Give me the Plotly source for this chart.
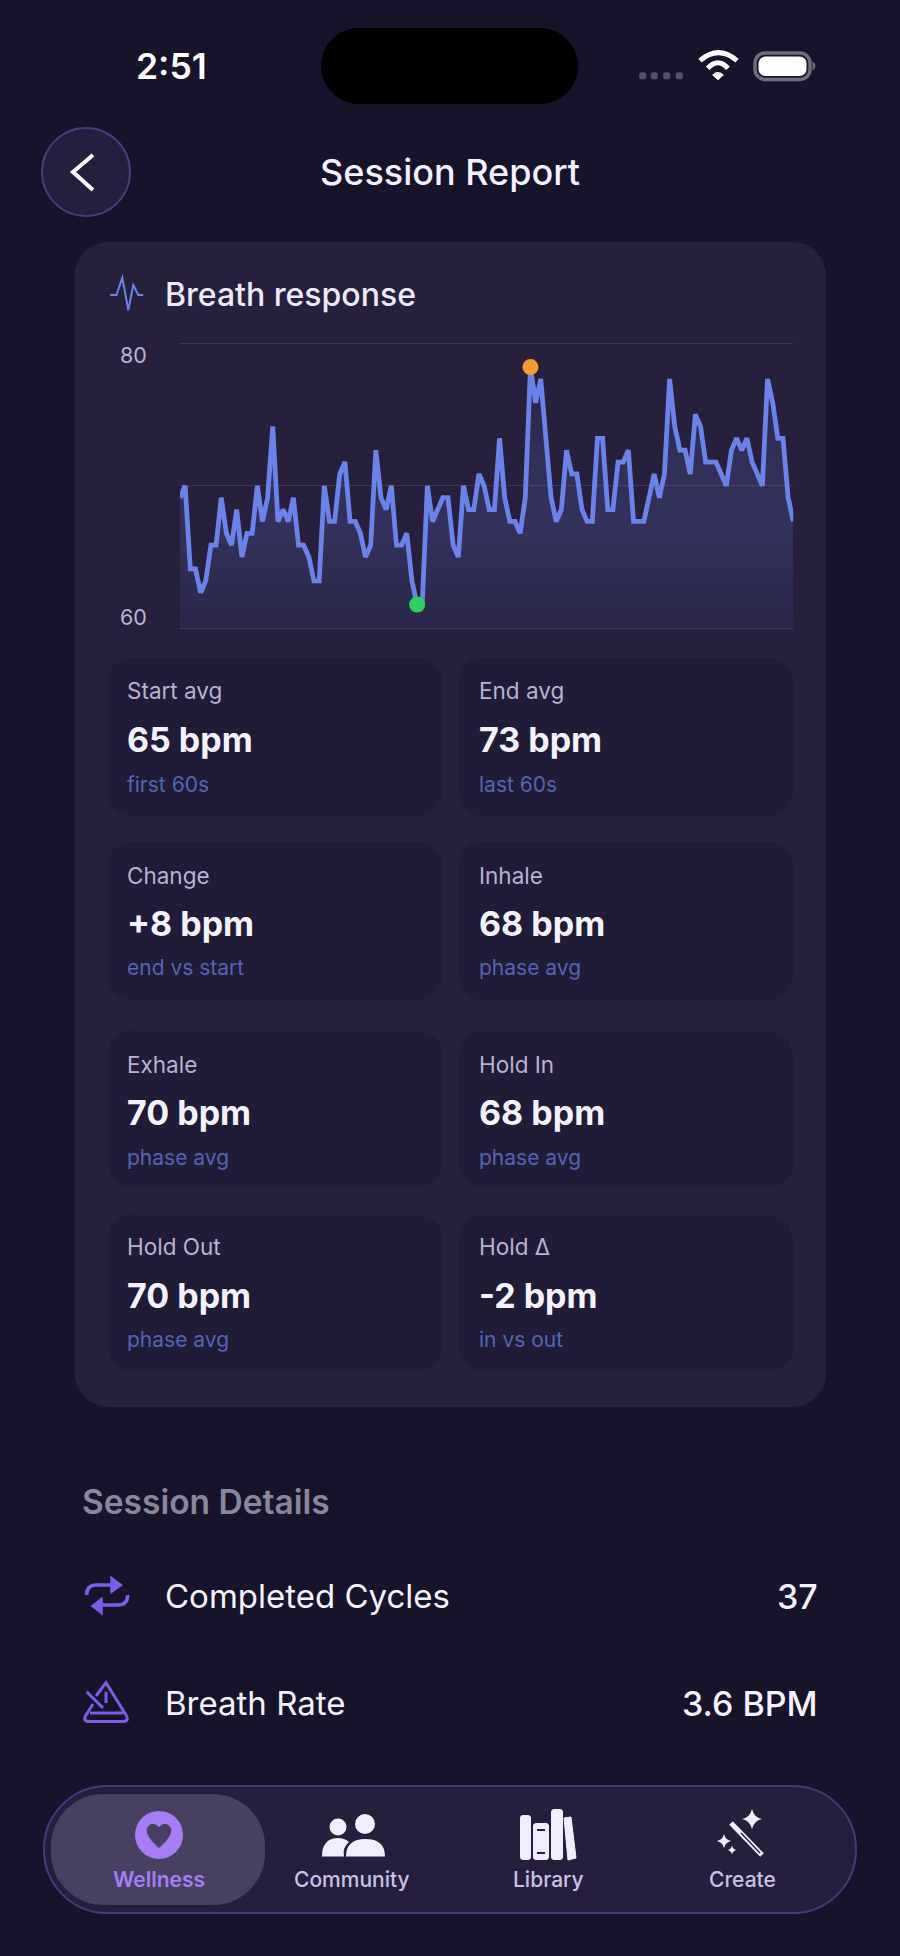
import re
import plotly.graph_objects as go

W = 900
H = 1956

bpm_values = [69, 70, 63, 63, 61, 62, 65, 65, 69, 66, 65, 68, 64, 66, 66, 70, 67, 69, 75, 67,
              68, 67, 69, 65, 65, 64, 62, 62, 70, 67, 67, 71, 72, 67, 67, 66, 64, 65, 73, 69,
              68, 70, 65, 65, 66, 62, 60, 60, 70, 67, 68, 69, 69, 65, 64, 70, 68, 68, 71, 70,
              68, 68, 74, 69, 67, 67, 66, 69, 80, 77, 79, 74, 69, 67, 68, 73, 71, 71, 68, 67,
              67, 74, 74, 68, 68, 72, 72, 73, 67, 67, 67, 69, 71, 69, 71, 79, 75, 73, 73, 71,
              76, 75, 72, 72, 72, 71, 70, 73, 74, 73, 74, 72, 71, 70, 79, 77, 74, 74, 69, 67]
sample_index = list(range(len(bpm_values)))
peak_sample = [68]
peak_bpm = [80]
low_sample = [46]
low_bpm = [60]
grid_values = [58, 70, 82]
axis_labels = ["80", "60"]
axis_label_values = [80, 60]

stat_labels = ["Start avg", "End avg", "Change", "Inhale", "Exhale", "Hold In", "Hold Out", "Hold Δ"]
stat_values = ["65 bpm", "73 bpm", "+8 bpm", "68 bpm", "70 bpm", "68 bpm", "70 bpm", "-2 bpm"]
stat_notes = ["first 60s", "last 60s", "end vs start", "phase avg", "phase avg", "phase avg", "phase avg", "in vs out"]

detail_labels = ["Completed Cycles", "Breath Rate"]
detail_values = ["37", "3.6 BPM"]
nav_labels = ["Wellness", "Community", "Library", "Create"]

FONT = "Inter"
BG = "#17132A"
CARD = "#26203D"
CELL = "#201B36"
LINE = "#6B82E8"
PURPLE = "#7C5CE8"
ACCENT = "#A77CF7"
ICON = "#F1EDFF"


def px_x(x):
    return x / W


def px_y(y):
    return 1 - y / H


def to_paper(d):
    # pixel path -> paper path, pairs of numbers after each command
    nums = iter(re.findall(r"[A-Z]|-?\d+\.?\d*", d))
    out = []
    for tok in nums:
        if tok.isalpha():
            out.append(tok)
        else:
            out.append(f"{px_x(float(tok)):.5f},{px_y(float(next(nums))):.5f}")
    return " ".join(out)


shapes = []
notes = []


def path(d, fill=None, stroke=None, width=0):
    shapes.append(dict(type="path", path=to_paper(d), xref="paper", yref="paper", layer="below",
                       fillcolor=fill or "rgba(0,0,0,0)",
                       line=dict(color=stroke or "rgba(0,0,0,0)", width=width)))


def round_rect(x0, y0, x1, y1, r, fill=None, stroke=None, width=0):
    k = r * 0.45
    d = (f"M {x0 + r} {y0} L {x1 - r} {y0} C {x1 - k} {y0} {x1} {y0 + k} {x1} {y0 + r} "
         f"L {x1} {y1 - r} C {x1} {y1 - k} {x1 - k} {y1} {x1 - r} {y1} "
         f"L {x0 + r} {y1} C {x0 + k} {y1} {x0} {y1 - k} {x0} {y1 - r} "
         f"L {x0} {y0 + r} C {x0} {y0 + k} {x0 + k} {y0} {x0 + r} {y0} Z")
    path(d, fill, stroke, width)


def circle(cx, cy, rx, ry=None, fill=None, stroke=None, width=0):
    ry = ry or rx
    shapes.append(dict(type="circle", xref="paper", yref="paper", layer="below",
                       x0=px_x(cx - rx), x1=px_x(cx + rx), y0=px_y(cy + ry), y1=px_y(cy - ry),
                       fillcolor=fill or "rgba(0,0,0,0)",
                       line=dict(color=stroke or "rgba(0,0,0,0)", width=width)))


def text(x, y, s, size, color, weight=400, anchor="left"):
    notes.append(dict(x=px_x(x), y=px_y(y), xref="paper", yref="paper", text=s, showarrow=False,
                      xanchor=anchor, yanchor="middle", borderpad=0,
                      font=dict(family=FONT, size=size, color=color, weight=weight)))


def star(cx, cy, r, fill=ICON):
    q = r * 0.18
    path(f"M {cx} {cy - r} Q {cx + q} {cy - q} {cx + r} {cy} Q {cx + q} {cy + q} {cx} {cy + r} "
         f"Q {cx - q} {cy + q} {cx - r} {cy} Q {cx - q} {cy - q} {cx} {cy - r} Z", fill)


# status bar
text(171, 67, "2:51", 35.5, "#FFFFFF", 600, "center")
round_rect(321, 28, 578, 104, 38, "#000000")
for dot_x in (642.7, 654.3, 666.7, 679.3):
    round_rect(dot_x - 3.5, 72.2, dot_x + 3.5, 79.2, 2, "#55506A")
path("M 700 60.7 Q 718.5 44.7 737 60.7", None, "#FFFFFF", 5)
path("M 707.7 68.3 Q 718 57 728 68.3", None, "#FFFFFF", 5)
path("M 712.7 75 Q 718 70 723.3 75 L 718 79.8 Z", "#FFFFFF", "#FFFFFF", 1)
round_rect(755, 53, 810, 79.5, 10, None, "#6F6B80", 3.5)
round_rect(758.5, 56.5, 806.5, 76, 7, "#FFFFFF")
path("M 813 62 Q 817 66 813 70 Z", "#6F6B80", "#6F6B80", 1)

# header
circle(86, 172, 44, fill="#241E3F", stroke="#463F7A", width=2)
path("M 93 155 L 73 172 L 93 190", None, "#FFFFFF", 4)
text(450, 172, "Session Report", 36, "#F3F0FF", 500, "center")

# card
round_rect(74.5, 242, 826, 1407, 34, CARD)
path("M 110 295 L 116.5 295 L 122.3 277.7 L 128.3 310 L 133.3 285 L 138.3 295 L 143.3 295", None, "#6B82E8", 2)
text(163.5, 295, "Breath response", 32, "#EDE9FB", 500)

for v, lab in zip(axis_label_values, axis_labels):
    notes.append(dict(x=px_x(148), xref="paper", y=v, yref="y", text=lab, showarrow=False,
                      xanchor="right", yanchor="middle", borderpad=0,
                      yshift=12 if v == 80 else -12,
                      font=dict(family=FONT, size=21.5, color="#B8B3CF")))

# stat cells
cell_rows = [(658, 816), (842, 1000), (1031, 1187), (1215, 1371)]
text_rows = [658, 842, 1031, 1213.5]
cell_cols = [(107.5, 442), (459, 793)]
text_cols = [125.5, 478]
for i in range(len(stat_labels)):
    top, bottom = cell_rows[i // 2]
    left, right = cell_cols[i % 2]
    tx = text_cols[i % 2]
    ty = text_rows[i // 2]
    round_rect(left, top, right, bottom, 24, CELL)
    text(tx, ty + 33, stat_labels[i], 22.5, "#B8B3CF")
    text(tx, ty + 81.5, stat_values[i], 34, "#F5F2FF", 700)
    text(tx, ty + 126, stat_notes[i], 21, "#5465B5")

# session details
text(80.5, 1502, "Session Details", 33.5, "#8A869C", 600)
for lab, val, y_ in zip(detail_labels, detail_values, (1596, 1703)):
    text(163.5, y_, lab, 33, "#F5F2FF")
    text(819, y_, val, 34, "#F5F2FF", 500, "right")
path("M 86.7 1595 Q 86.7 1585 96 1585 L 114 1585", None, PURPLE, 3.6)
path("M 111 1577 L 121.7 1585 L 111 1592.7 Z", PURPLE, PURPLE, 1.5)
path("M 127.7 1595 Q 127.7 1605 118 1605 L 100 1605", None, PURPLE, 3.6)
path("M 102 1598 L 91.7 1606 L 102 1614 Z", PURPLE, PURPLE, 1.5)
path("M 96 1696 L 106 1682.7 L 126 1715 Q 130 1721.5 122 1721.5 L 90 1721.5 Q 82 1721.5 86 1715 L 93 1704",
     None, PURPLE, 3)
path("M 86.7 1691.7 L 103 1708", None, PURPLE, 3)
path("M 90 1713 L 123 1713", None, PURPLE, 3)
path("M 106 1691.7 L 106 1703", None, PURPLE, 3)

# nav
round_rect(44, 1786, 856, 1913, 63, "#251E3D", "#443B78", 2)
round_rect(51, 1794, 265, 1905, 52, "#474060")
circle(159, 1835, 24, fill=ACCENT)
path("M 159 1848 Q 145 1836 147 1828 Q 152 1820 159 1827 Q 166 1820 171 1828 Q 173 1836 159 1848 Z", "#474060")
circle(338, 1827, 8.5, fill=ICON)
circle(365, 1824, 10, fill=ICON)
path("M 322 1856.5 Q 322 1839 337 1838 Q 345 1838 349 1842 Q 342 1848 344 1856.5 Z", ICON)
path("M 346 1856.5 Q 346 1839 365.5 1839 Q 385 1839 385 1856.5 Z", ICON)
round_rect(520, 1815, 531, 1860, 3, ICON)
round_rect(533, 1823, 549, 1860, 3, ICON)
round_rect(551, 1809, 563, 1860, 3, ICON)
path("M 564 1818 L 571 1817 L 576 1858 L 568 1860 Z", ICON, ICON, 1)
path("M 537 1830 L 545 1830", None, "#251E3D", 2)
path("M 537 1853 L 545 1853", None, "#251E3D", 2)
path("M 731 1823 L 762 1855", None, ICON, 5)
path("M 741 1833 L 760 1853", None, "#251E3D", 1.4)
star(752, 1819, 10)
star(724, 1841, 7)
star(732, 1850, 4.5)
for lab, cx, col, wt in zip(nav_labels, (159, 352, 548, 742),
                            (ACCENT, "#C8C3E3", "#C8C3E3", "#C8C3E3"), (600, 500, 500, 500)):
    text(cx, 1879, lab, 21, col, wt, "center")

fig = go.Figure()
# fill is clipped to the plot box, the line on top is not
fig.add_trace(go.Scatter(x=sample_index, y=bpm_values, mode="lines",
                         line=dict(width=0), fill="tozeroy",
                         fillgradient=dict(type="vertical", start=58, stop=82,
                                           colorscale=[[0, "rgba(107,130,232,0.07)"],
                                                       [0.35, "rgba(107,130,232,0.18)"],
                                                       [0.6, "rgba(107,130,232,0.16)"],
                                                       [1, "rgba(107,130,232,0.0)"]]),
                         hoverinfo="skip"))
fig.add_trace(go.Scatter(x=sample_index, y=bpm_values, mode="lines", cliponaxis=False,
                         line=dict(color=LINE, width=4.8), hoverinfo="skip"))
fig.add_trace(go.Scatter(x=peak_sample, y=peak_bpm, mode="markers", cliponaxis=False,
                         marker=dict(color="#F79A35", size=16), hoverinfo="skip"))
fig.add_trace(go.Scatter(x=low_sample, y=low_bpm, mode="markers", cliponaxis=False,
                         marker=dict(color="#2FD15E", size=16), hoverinfo="skip"))

fig.update_layout(width=W, height=H, margin=dict(l=0, r=0, t=0, b=0), showlegend=False,
                  paper_bgcolor=BG, plot_bgcolor="rgba(0,0,0,0)", shapes=shapes, annotations=notes)
fig.update_xaxes(domain=[px_x(180), px_x(793.3)], range=[0, 119], showgrid=False, zeroline=False,
                 showticklabels=False, ticks="")
# range runs a hair past the outer grid lines so plotly keeps them
fig.update_yaxes(domain=[px_y(629.5), px_y(342.1)], range=[57.9, 82.1], tickvals=grid_values,
                 showticklabels=False, ticks="", gridcolor="#3E3853", gridwidth=1.4, zeroline=False)

fig.write_html("out.html", config=dict(displayModeBar=False),
               post_script="document.body.style.margin='0';document.body.style.background='" + BG + "';")
